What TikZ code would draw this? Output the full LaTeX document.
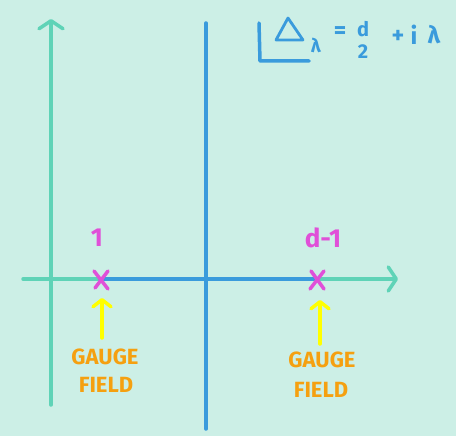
\documentclass[tikz,border=0pt]{standalone}
\usepackage{fontspec}
\setsansfont{Fira Sans}
\usetikzlibrary{arrows.meta}
\definecolor{bg}{HTML}{CCEFE6}
\definecolor{teal}{HTML}{5FD3B7}
\definecolor{axblue}{HTML}{3A9BDC}
\definecolor{mag}{HTML}{E050D8}
\definecolor{yel}{HTML}{FFFF00}
\definecolor{org}{HTML}{F5A010}
\tikzset{
  axis/.style={draw=teal, line width=3.5pt, line cap=round, -{Straight Barb[length=8pt,width=24pt,line width=3.5pt,round]}},
  bline/.style={draw=axblue, line width=3.5pt, line cap=round},
  cross/.style={draw=mag, line width=3.5pt, line cap=round},
  yarrow/.style={draw=yel, line width=3.5pt, line cap=round, -{Straight Barb[length=7pt,width=18pt,line width=3.5pt,round]}},
  glabel/.style={text=org, font=\sffamily\bfseries\fontsize{22}{22}\selectfont, inner sep=0pt},
  mlabel/.style={text=mag, font=\sffamily\bfseries\fontsize{26}{26}\selectfont, inner sep=0pt},
  flabel/.style={text=axblue, font=\sffamily\bfseries\fontsize{24}{24}\selectfont, inner sep=0pt},
  fraclabel/.style={flabel, font=\sffamily\bfseries\fontsize{20}{20}\selectfont},
}
\begin{document}
\begin{tikzpicture}[x=1pt,y=-1pt]
\fill[bg] (0,0) rectangle (456,436);
\useasboundingbox (0,0) rectangle (456,436);
% axes
\coordinate (vb) at (51,405);
\coordinate (vt) at (51,19);
\coordinate (hl) at (23,279);
\coordinate (hr) at (398,279);
\draw[axis] (vb) -- (vt);
\draw[axis] (hl) -- (hr);
% blue
\coordinate (b1) at (100,279);
\coordinate (b2) at (317,279);
\draw[bline] (b1) -- (b2);
\coordinate (bt) at (206,23);
\coordinate (bb) at (206,429);
\draw[bline] (bt) -- (bb);
% crosses
\coordinate (x1) at (101,280);
\coordinate (x2) at (317,280);
\draw[cross] ([shift={(-7,-9)}]x1) -- ([shift={(7,9)}]x1);
\draw[cross] ([shift={(7,-9)}]x1) -- ([shift={(-6,8)}]x1);
\draw[cross] ([shift={(-6,-9)}]x2) -- ([shift={(7,9)}]x2);
\draw[cross] ([shift={(7,-9)}]x2) -- ([shift={(-7,9)}]x2);
% labels
\node[mlabel] (one) at (97,238) {1};
\node[mlabel] (dm1) at (323,238) {d-1};
% yellow arrows
\coordinate (y1b) at (102,338);
\coordinate (y1t) at (102,298);
\coordinate (y2b) at (320,344);
\coordinate (y2t) at (320,300);
\draw[yarrow] (y1b) -- (y1t);
\draw[yarrow] (y2b) -- (y2t);
% gauge field
\node[glabel] (g1) at (105,357) {GAUGE};
\node[glabel] (f1) at (106,385) {FIELD};
\node[glabel] (g2) at (322,360) {GAUGE};
\node[glabel] (f2) at (321,390) {FIELD};
% formula
\draw[axblue, line width=3.5pt, line cap=round, line join=round] (259,23) -- (260,61) -- (309,61);
\draw[axblue, line width=2.8pt, line join=round] (288,18) -- (276,40) -- (303,40) -- cycle;
\node[flabel, font=\sffamily\bfseries\fontsize{19}{19}\selectfont] (lam) at (316,45) {λ};
\node[flabel] (eq) at (340,33) {=};
\node[fraclabel] (dn) at (363,29) {d};
\node[fraclabel] (den) at (363,52) {2};
\node[flabel] (plus) at (398,37) {+};
\node[flabel] (ii) at (414,35) {i};
\node[flabel] (lam2) at (434,35) {λ};
\end{tikzpicture}
\end{document}
